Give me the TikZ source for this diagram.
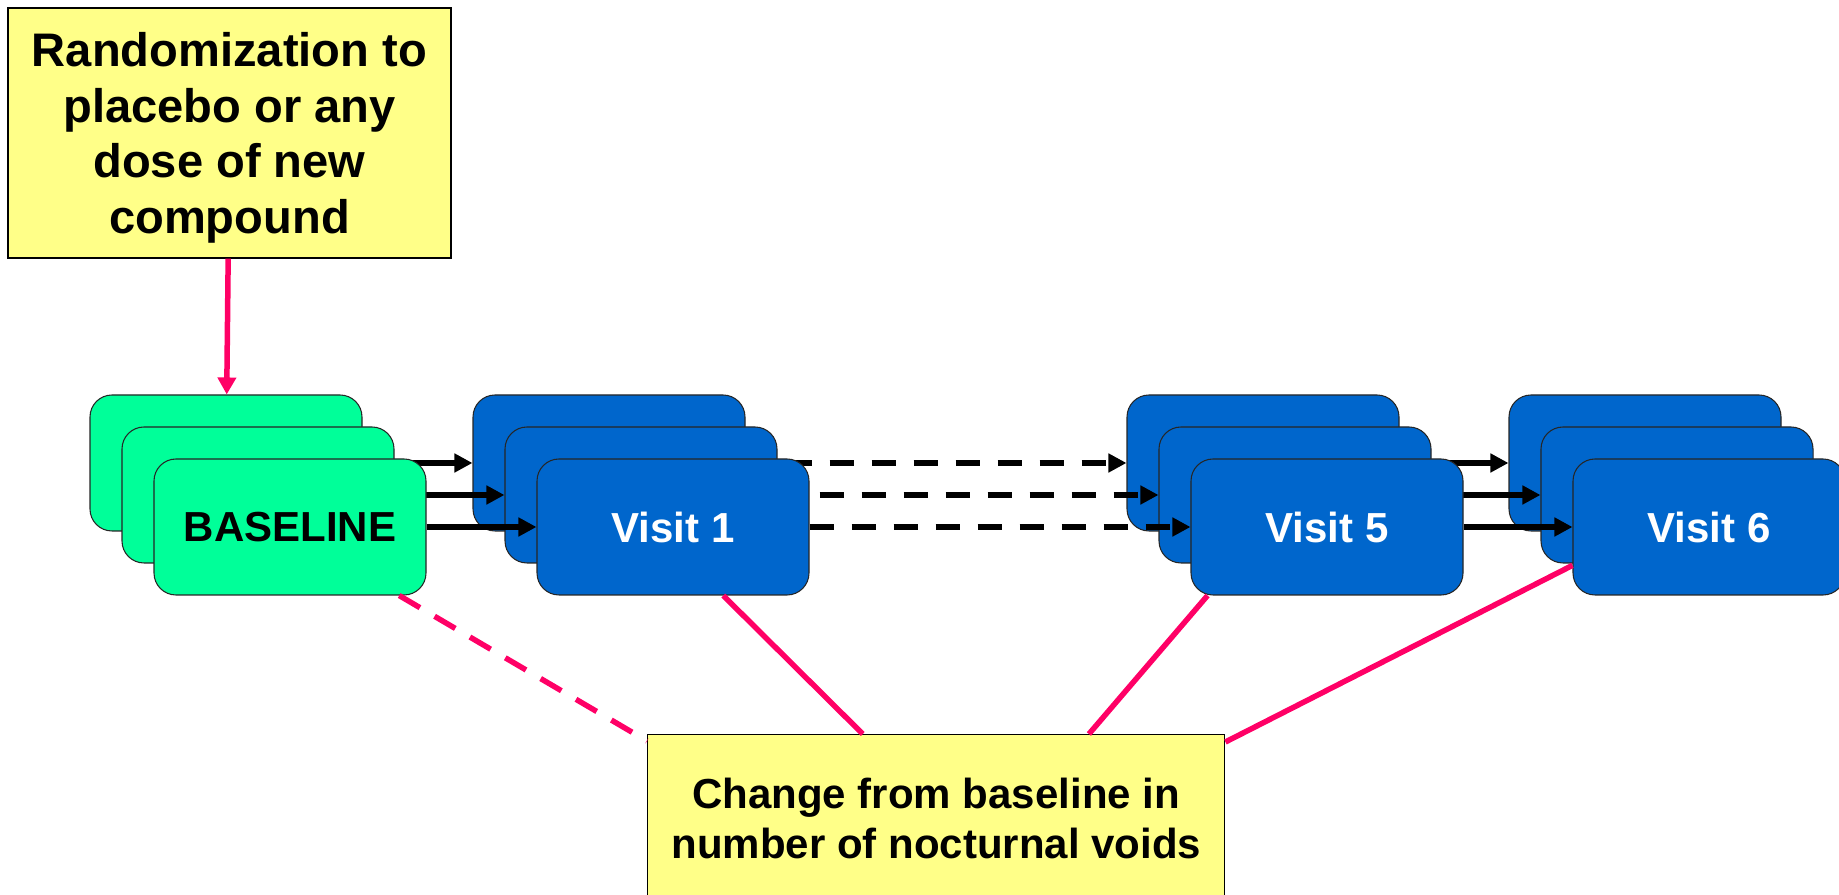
\documentclass[tikz,border=0pt]{standalone}
\usepackage{fontspec}
\setmainfont{Liberation Sans}
\usetikzlibrary{arrows.meta,calc,positioning}

\begin{document}
\begin{tikzpicture}
		[scale=1,line cap=butt,
		%Styles
		card/.style={draw=black!85,line width=0.3pt,rounded corners=0.22cm,minimum width=2.72cm,minimum height=1.36cm,inner sep=0pt,font=\bfseries\fontsize{11.95}{14.2}\selectfont},
		base card/.style={card,fill=basegreen,text=black},
		visit card/.style={card,fill=visitblue,text=white},
		layer/.style={on grid,below right=0.32cm and 0.32cm of #1},
		notebox/.style={draw=black,line width=0.4pt,fill=noteyellow,align=center,inner sep=0pt},
		flow/.style={line width=0.06cm,-{Triangle[length=0.18cm,width=0.18cm]}},
		dashed flow/.style={flow,dash pattern=on 0.24cm off 0.18cm},
		pinkline/.style={draw=linkpink,line width=0.055cm}
		]
		
		%Colors
		\definecolor{basegreen}{RGB}{0,255,153}
		\definecolor{visitblue}{RGB}{0,102,204}
		\definecolor{noteyellow}{RGB}{255,255,136}
		\definecolor{linkpink}{RGB}{255,0,102}
		
		\useasboundingbox (0,0) rectangle (18.39,8.95);
		
		%The graphic
		%back layer
		\node[base card] (base1) at (2.26,4.32) {};
		\node[visit card] (one1) at (6.09,4.32) {};
		\node[visit card] (five1) at (12.63,4.32) {};
		\node[visit card] (six1) at (16.45,4.32) {};
		
		\draw[flow] (base1) -- (one1);
		\draw[dashed flow] (one1) -- (five1);
		\draw[flow] (five1) -- (six1);
		
		%middle layer
		\node[base card,layer=base1] (base2) {};
		\node[visit card,layer=one1] (one2) {};
		\node[visit card,layer=five1] (five2) {};
		\node[visit card,layer=six1] (six2) {};
		
		\draw[flow] (base2) -- (one2);
		\draw[dashed flow] (one2) -- (five2);
		\draw[flow] (five2) -- (six2);
		
		%front layer
		\node[base card,layer=base2] (base3) {BASELINE};
		\node[visit card,layer=one2] (one3) {Visit 1};
		\node[visit card,layer=five2] (five3) {Visit 5};
		\node[visit card,layer=six2] (six3) {Visit 6};
		
		\draw[flow] (base3) -- (one3);
		\draw[dashed flow] (one3) -- (five3);
		\draw[flow] (five3) -- (six3);
		
		%notes
		\node[notebox,minimum width=4.43cm,minimum height=2.50cm,text depth=0pt,font=\bfseries\fontsize{13.4}{15.9}\selectfont] (rand) at (2.295,7.62) {Randomization to\\placebo or any\\dose of new\\compound};
		\node[notebox,anchor=north west,minimum width=5.77cm,minimum height=1.68cm,font=\bfseries\fontsize{11.95}{14.2}\selectfont] (change) at (6.47,1.61) {Change from baseline in\\number of nocturnal voids};
		
		\draw[pinkline,-{Triangle[length=0.17cm,width=0.18cm]}] (rand) -- (base1);
		
		\draw[pinkline,dash pattern=on 0.24cm off 0.17cm] ($(base3.south west)!0.90!(base3.south east)$) -- ($(change.north west)+(0,-0.07)$);
		\draw[pinkline] ($(one3.south west)!0.684!(one3.south east)$) -- ($(change.north west)!0.373!(change.north east)$);
		\draw[pinkline] ($(five3.south west)!0.0625!(five3.south east)$) -- ($(change.north west)!0.764!(change.north east)$);
		\draw[pinkline] ($(change.north east)+(0,-0.08)$) -- ($(six3.north west)!0.78!(six3.south west)$);
	\end{tikzpicture}
\end{document}
